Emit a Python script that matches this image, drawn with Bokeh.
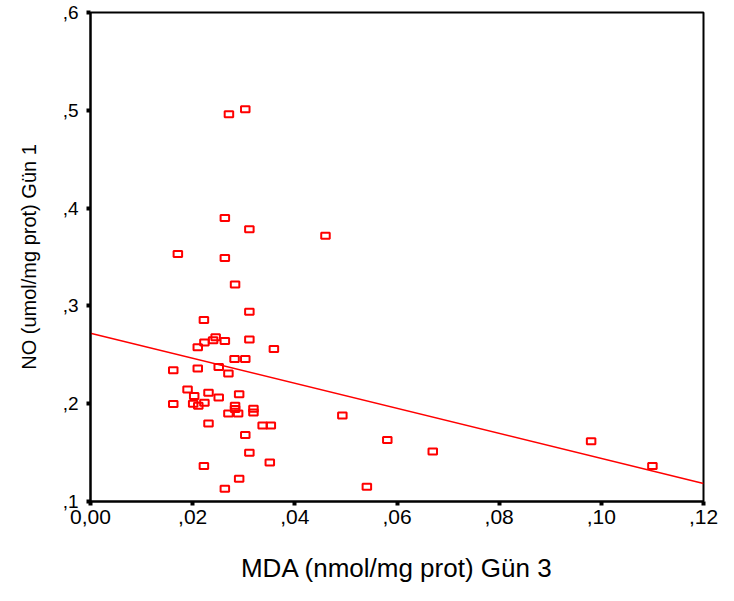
from bokeh.plotting import figure
from bokeh.embed import file_html
from bokeh.resources import INLINE
from bokeh.models import Range1d, FixedTicker, ColumnDataSource

# MDA (nmol/mg prot) Gün 3
mda = [0.0303, 0.0271, 0.0263, 0.0311, 0.0171, 0.0263, 0.0283, 0.0311, 0.0222,
       0.0245, 0.0240, 0.0223, 0.0263, 0.0210, 0.0311, 0.0359, 0.0282, 0.0303,
       0.0162, 0.0210, 0.0251, 0.0270, 0.0190, 0.0203, 0.0231, 0.0251, 0.0291,
       0.0162, 0.0201, 0.0211, 0.0223, 0.0283, 0.0283, 0.0319, 0.0319, 0.0270,
       0.0289, 0.0231, 0.0337, 0.0353, 0.0303, 0.0311, 0.0222, 0.0351, 0.0291,
       0.0263, 0.0460, 0.0493, 0.0581, 0.0670, 0.0541, 0.0980, 0.1100]
# NO (umol/mg prot) Gün 1
no = [0.501, 0.496, 0.390, 0.3785, 0.353, 0.349, 0.322, 0.294, 0.2856,
      0.268, 0.265, 0.2626, 0.2641, 0.2576, 0.2657, 0.2559, 0.2458, 0.2458,
      0.2343, 0.2361, 0.2374, 0.2310, 0.2146, 0.2078, 0.2111, 0.2064, 0.2096,
      0.1997, 0.2000, 0.1980, 0.2010, 0.1980, 0.1945, 0.1949, 0.1909, 0.1899,
      0.1899, 0.1798, 0.1778, 0.1778, 0.1680, 0.1498, 0.1364, 0.1399, 0.1232,
      0.1131, 0.3717, 0.1879, 0.1629, 0.1512, 0.1152, 0.1616, 0.1364]

# linear fit line
fit_x = [0.0, 0.12]
fit_y = [0.272, 0.1185]

x_ticks = [0.0, 0.02, 0.04, 0.06, 0.08, 0.10, 0.12]
x_tick_labels = ["0,00", ",02", ",04", ",06", ",08", ",10", ",12"]
y_ticks = [0.1, 0.2, 0.3, 0.4, 0.5, 0.6]
y_tick_labels = [",1", ",2", ",3", ",4", ",5", ",6"]

FONT = "Liberation Sans"

p = figure(width=718, height=585, output_backend="svg", toolbar_location=None,
           x_range=Range1d(0, 0.12), y_range=Range1d(0.1, 0.6),
           min_border_left=90, min_border_right=15, min_border_top=12,
           min_border_bottom=82, background_fill_color="white",
           border_fill_color="white")

p.outline_line_color = "black"
p.outline_line_width = 2
p.xgrid.visible = False
p.ygrid.visible = False

p.line(fit_x, fit_y, line_color="#ff0000", line_width=1.5)

src = ColumnDataSource(dict(x=mda, y=no))
p.rect("x", "y", width=8.5, height=6, width_units="screen", height_units="screen",
       source=src, fill_color=None, line_color="#ff0000", line_width=2)

for ax, ticks, labels in ((p.xaxis[0], x_ticks, x_tick_labels),
                          (p.yaxis[0], y_ticks, y_tick_labels)):
    ax.ticker = FixedTicker(ticks=ticks)
    ax.major_label_overrides = {t: l for t, l in zip(ticks, labels)}
    ax.axis_line_color = "black"
    ax.axis_line_width = 2
    ax.major_tick_line_color = "black"
    ax.major_tick_line_width = 4
    ax.major_tick_in = 0
    ax.major_tick_out = 4
    ax.minor_tick_line_color = None
    ax.major_label_text_font = FONT
    ax.major_label_text_color = "black"
    ax.axis_label_text_font = FONT
    ax.axis_label_text_font_style = "normal"
    ax.axis_label_text_color = "black"

p.xaxis.axis_label = "MDA (nmol/mg prot) Gün 3"
p.xaxis.axis_label_text_font_size = "26px"
p.xaxis.major_label_text_font_size = "21px"
p.xaxis.major_label_standoff = 4
p.xaxis.axis_label_standoff = 26

p.yaxis.axis_label = "NO (umol/mg prot) Gün 1"
p.yaxis.axis_label_text_font_size = "20px"
p.yaxis.major_label_text_font_size = "19px"
p.yaxis.major_label_standoff = 8
p.yaxis.axis_label_standoff = 20

open("out.html", "w").write(file_html(p, INLINE))
